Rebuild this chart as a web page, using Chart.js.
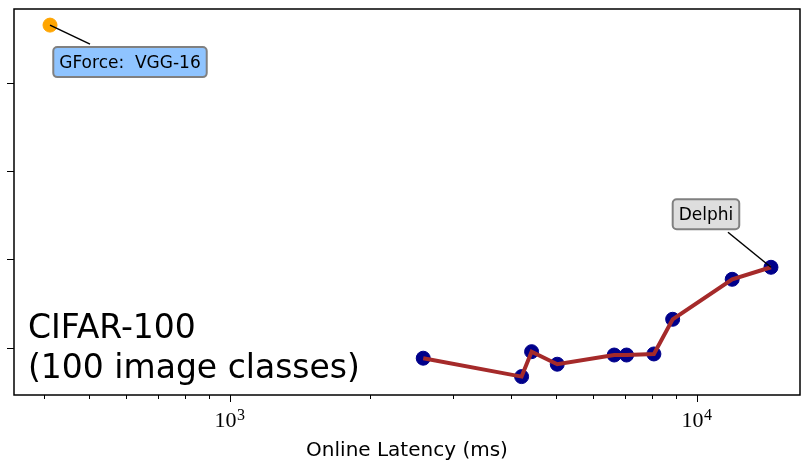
<!DOCTYPE html>
<html>
<head>
<meta charset="utf-8">
<script src="https://cdn.jsdelivr.net/npm/chart.js@4.4.1/dist/chart.umd.min.js"></script>
<style>
  html, body { margin: 0; padding: 0; background: #fff; }
  #wrap { width: 801px; height: 463px; }
</style>
</head>
<body>
<div id="wrap"><canvas id="latencyChart" width="801" height="463"></canvas></div>
<script>
// Delphi sweep (CIFAR-100): online latency (ms) vs accuracy (%)
const delphiLatency = [2594, 4213, 4426, 5022, 6650, 7069, 8088, 8872, 11898, 14404];
const delphiAccuracy = [59.42, 58.38, 59.79, 59.08, 59.60, 59.60, 59.66, 61.62, 63.88, 64.56];
const gforceLatency = [412];
const gforceAccuracy = [78.25];

const xMajorTicks = [1000, 10000];
const xMinorTicks = [400, 500, 600, 700, 800, 900, 2000, 3000, 4000, 5000, 6000, 7000, 8000, 9000];
const yTicks = [60, 65, 70, 75];

const toPoints = (xs, ys) => xs.map((x, i) => ({ x: x, y: ys[i] }));

// frame, tick marks + 10^n labels, annotations and the dataset caption
const decorations = {
  id: 'decorations',
  afterDraw(chart) {
    const { ctx, chartArea: a, scales: { x, y } } = chart;
    ctx.save();
    ctx.strokeStyle = '#000';
    ctx.lineWidth = 1;
    xMinorTicks.forEach(v => {
      const px = Math.round(x.getPixelForValue(v)) + 0.5;
      ctx.beginPath(); ctx.moveTo(px, a.bottom); ctx.lineTo(px, a.bottom + 4); ctx.stroke();
    });
    xMajorTicks.forEach(v => {
      const px = Math.round(x.getPixelForValue(v)) + 0.5;
      ctx.beginPath(); ctx.moveTo(px, a.bottom); ctx.lineTo(px, a.bottom + 7); ctx.stroke();
      // label as 10 with a raised exponent
      const base = '10', exp = String(Math.round(Math.log10(v)));
      ctx.fillStyle = '#000';
      ctx.textBaseline = 'alphabetic';
      ctx.textAlign = 'left';
      ctx.font = '22px "Liberation Serif"';
      const wb = ctx.measureText(base).width;
      ctx.font = '16px "Liberation Serif"';
      const we = ctx.measureText(exp).width;
      const left = px - (wb + we) / 2 - 1;
      ctx.font = '22px "Liberation Serif"';
      ctx.fillText(base, left, a.bottom + 32);
      ctx.font = '16px "Liberation Serif"';
      ctx.fillText(exp, left + wb + 0.5, a.bottom + 25);
    });
    yTicks.forEach(v => {
      const py = Math.round(y.getPixelForValue(v)) + 0.5;
      ctx.beginPath(); ctx.moveTo(a.left, py); ctx.lineTo(a.left - 7, py); ctx.stroke();
    });
    ctx.lineWidth = 1.5;
    ctx.strokeRect(a.left, a.top, a.right - a.left, a.bottom - a.top);

    // caption
    ctx.fillStyle = '#000';
    ctx.font = '33px "DejaVu Sans"';
    ctx.textBaseline = 'alphabetic';
    ctx.textAlign = 'left';
    ctx.fillText('CIFAR-100', a.left + 14, a.bottom - 57);
    ctx.fillText('(100 image classes)', a.left + 14, a.bottom - 17);

    const notes = [
      { text: 'GForce:  VGG-16', x: gforceLatency[0], y: gforceAccuracy[0], box: [80, 37], tip: [40, 19], fill: '#8fc4ff' },
      { text: 'Delphi', x: delphiLatency[9], y: delphiAccuracy[9], box: [-65, -53], tip: [-43, -35], fill: '#dedede' }
    ];
    ctx.font = '17px "DejaVu Sans"';
    notes.forEach(n => {
      const px = x.getPixelForValue(n.x), py = y.getPixelForValue(n.y);
      ctx.strokeStyle = '#000';
      ctx.lineWidth = 1.5;
      ctx.beginPath(); ctx.moveTo(px, py); ctx.lineTo(px + n.tip[0], py + n.tip[1]); ctx.stroke();
      const w = ctx.measureText(n.text).width + 12, h = 30;
      const cx = px + n.box[0], cy = py + n.box[1];
      ctx.beginPath();
      ctx.roundRect(cx - w / 2, cy - h / 2, w, h, 4);
      ctx.fillStyle = n.fill;
      ctx.fill();
      ctx.strokeStyle = '#808080';
      ctx.lineWidth = 2;
      ctx.stroke();
      ctx.fillStyle = '#000';
      ctx.textAlign = 'center';
      ctx.textBaseline = 'middle';
      ctx.fillText(n.text, cx, cy + 1);
    });
    ctx.restore();
  }
};

const ctx = document.getElementById('latencyChart').getContext('2d');
const latencyChart = new Chart(ctx, {
  type: 'scatter',
  data: {
    datasets: [{
      label: 'Delphi points',
      data: toPoints(delphiLatency, delphiAccuracy),
      backgroundColor: '#00008b',
      borderColor: '#00008b',
      pointRadius: 7,
      order: 2
    }, {
      label: 'Delphi',
      type: 'line',
      data: toPoints(delphiLatency, delphiAccuracy),
      borderColor: '#a52a2a',
      borderWidth: 4,
      pointRadius: 0,
      fill: false,
      order: 1
    }, {
      label: 'GForce',
      data: toPoints(gforceLatency, gforceAccuracy),
      backgroundColor: '#ffa500',
      borderColor: '#ffa500',
      pointRadius: 7,
      order: 3
    }]
  },
  options: {
    responsive: false,
    animation: false,
    layout: { autoPadding: false, padding: { top: 9, right: 1, left: 0, bottom: 0 } },
    plugins: { legend: { display: false }, tooltip: { enabled: false } },
    scales: {
      x: {
        type: 'logarithmic',
        min: 345,
        max: 16620,
        afterFit: s => { s.height = 68; },
        grid: { display: false },
        border: { display: false },
        ticks: { display: false },
        title: {
          display: true,
          text: 'Online Latency (ms)',
          color: '#000',
          font: { family: 'DejaVu Sans', size: 20 },
          padding: { top: 0, bottom: 0 }
        }
      },
      y: {
        min: 57.34,
        max: 79.16,
        afterFit: s => { s.width = 14; },
        grid: { display: false },
        border: { display: false },
        ticks: { display: false }
      }
    }
  },
  plugins: [decorations]
});
</script>
</body>
</html>
